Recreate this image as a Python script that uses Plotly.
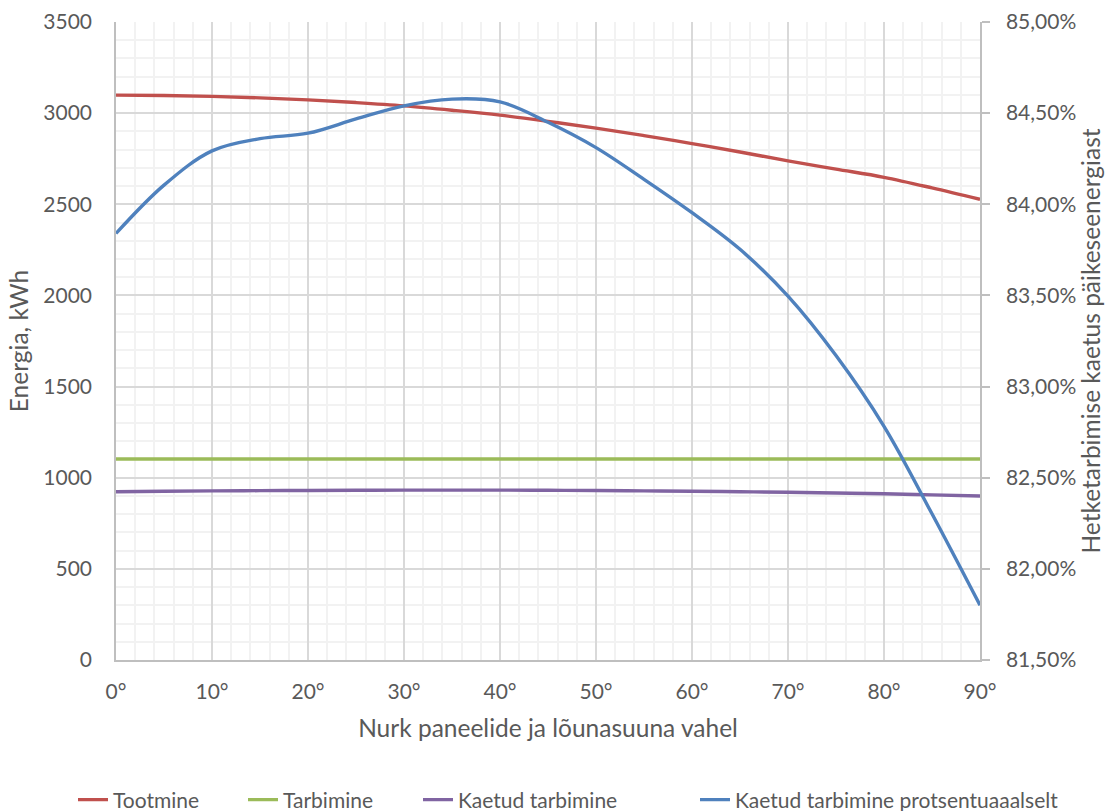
import plotly.graph_objects as go

# Panel azimuth relative to south, degrees
angles = [0, 5, 10, 15, 20, 25, 30, 35, 40, 45, 50, 55, 60, 65, 70, 75, 80, 85, 90]

# Energy series, kWh
tootmine = [3099, 3097, 3092, 3084, 3073, 3058, 3040, 3016, 2989, 2955, 2918, 2877,
            2833, 2787, 2738, 2693, 2648, 2590, 2527]
tarbimine = [1103] * len(angles)
kaetud = [923, 926, 928, 929, 930, 931, 932, 932, 932, 931, 930, 928,
          926, 923, 920, 916, 912, 906, 900]

# Share of consumption covered by solar, %
kaetud_pct = [83.84, 84.105, 84.293, 84.36, 84.39, 84.468, 84.54, 84.577, 84.562, 84.45,
              84.311, 84.137, 83.954, 83.753, 83.496, 83.17, 82.782, 82.302, 81.80]

left_ticks = [0, 500, 1000, 1500, 2000, 2500, 3000, 3500]
right_ticks = [81.5, 82.0, 82.5, 83.0, 83.5, 84.0, 84.5, 85.0]
right_labels = [f"{v:.2f}".replace(".", ",") + "%" for v in right_ticks]
x_ticks = [0, 10, 20, 30, 40, 50, 60, 70, 80, 90]
x_labels = [f"{v}°" for v in x_ticks]

FONT = "Lato"
TXT = "#595959"
MAJOR = "#d9d9d9"
MINOR = "#f2f2f2"
AXIS = "#bfbfbf"
TICK_SIZE = 21
TITLE_SIZE = 24.5
LEGEND_SIZE = 21
W, H = 1115, 811

series = [
    ("Tootmine", tootmine, "#c0504d", "y", "spline", "legend", 73),
    ("Tarbimine", tarbimine, "#9bbb59", "y", "linear", "legend2", 243),
    ("Kaetud tarbimine", kaetud, "#8064a2", "y", "spline", "legend3", 418),
    ("Kaetud tarbimine protsentuaaalselt", kaetud_pct, "#4f81bd", "y2", "spline", "legend4", 695),
]

fig = go.Figure()
legends = {}
for name, values, color, yax, shape, leg, lx in series:
    fig.add_trace(go.Scatter(x=angles, y=values, name=name, mode="lines", yaxis=yax,
                             legend=leg,
                             line=dict(color=color, width=3.4, shape=shape)))
    # one single-entry legend per series, laid out in a row under the chart
    legends[leg] = dict(orientation="h", xref="container", yref="container",
                        x=lx / W, xanchor="left", y=11 / H, yanchor="middle",
                        bgcolor="rgba(0,0,0,0)",
                        font=dict(family=FONT, size=LEGEND_SIZE, color=TXT))

fig.update_layout(
    width=W, height=H,
    margin=dict(l=116, r=135, t=22, b=151),
    paper_bgcolor="white", plot_bgcolor="white",
    font=dict(family=FONT, size=TICK_SIZE, color=TXT),
    showlegend=True,
    **legends,
    xaxis=dict(
        range=[0, 90], tickmode="array", tickvals=x_ticks, ticktext=x_labels,
        showgrid=True, gridcolor=MAJOR, gridwidth=1.5,
        minor=dict(dtick=2, showgrid=True, gridcolor=MINOR, gridwidth=1.5),
        showline=True, linecolor=AXIS, linewidth=1.5, automargin=False,
        ticks="", zeroline=False, ticklabelstandoff=12,
        title=dict(text="Nurk paneelide ja lõunasuuna vahel", standoff=18,
                   font=dict(family=FONT, size=TITLE_SIZE, color=TXT)),
        tickfont=dict(family=FONT, size=TICK_SIZE, color=TXT),
    ),
    yaxis=dict(
        range=[0, 3500], tickvals=left_ticks,
        showgrid=True, gridcolor=MAJOR, gridwidth=1.5,
        minor=dict(dtick=100, showgrid=True, gridcolor=MINOR, gridwidth=1.5),
        showline=True, linecolor=AXIS, linewidth=1.5, automargin=False,
        ticks="", zeroline=False, ticklabelstandoff=18,
        title=dict(text="Energia, kWh", standoff=8,
                   font=dict(family=FONT, size=TITLE_SIZE, color=TXT)),
        tickfont=dict(family=FONT, size=TICK_SIZE, color=TXT),
    ),
    yaxis2=dict(
        overlaying="y", side="right",
        range=[81.5, 85.0], tickvals=right_ticks, ticktext=right_labels,
        showgrid=False, zeroline=False, automargin=False,
        showline=True, linecolor=AXIS, linewidth=1.5,
        ticks="outside", ticklen=8, tickcolor=AXIS, tickwidth=1.5,
        ticklabelstandoff=12,
        title=dict(text="Hetketarbimise kaetus päikeseenergiast", standoff=6,
                   font=dict(family=FONT, size=TITLE_SIZE, color=TXT)),
        tickfont=dict(family=FONT, size=TICK_SIZE, color=TXT),
    ),
)

fig.write_html("out.html")
